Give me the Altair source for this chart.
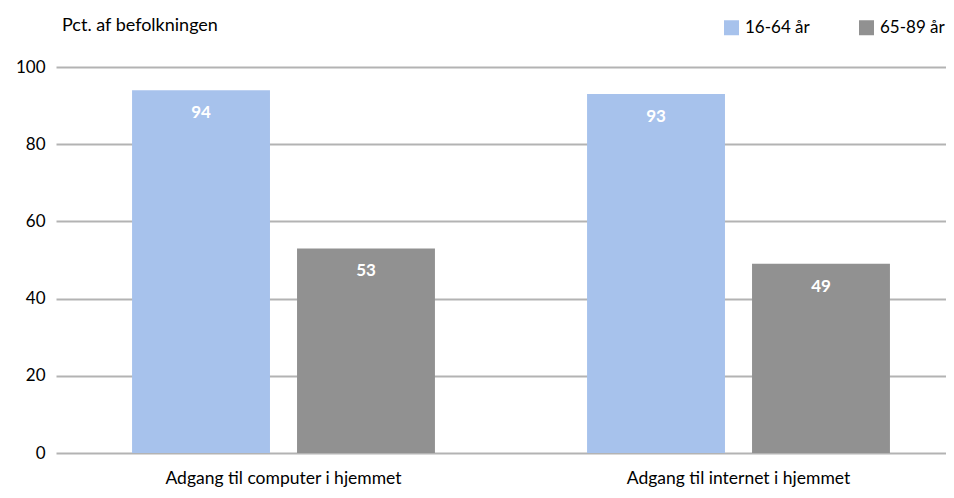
import altair as alt
import pandas as pd

categories = ["Adgang til computer i hjemmet", "Adgang til internet i hjemmet"]
groups = ["16-64 år", "65-89 år"]
values_young = [94, 93]
values_old = [53, 49]
colors = ["#a7c2ec", "#919191"]
y_title = "Pct. af befolkningen"

rows = []
for i, c in enumerate(categories):
    rows.append({"cat": c, "grp": groups[0], "val": values_young[i]})
    rows.append({"cat": c, "grp": groups[1], "val": values_old[i]})
df = pd.DataFrame(rows)

FONT = "Lato"

x = alt.X("cat:N", sort=categories, title=None,
          scale=alt.Scale(range=[0, 910], paddingInner=0, paddingOuter=0),
          axis=alt.Axis(labelAngle=0, labelFontSize=17.5, labelColor="#000000",
                        labelPadding=16, domain=False, ticks=False, labelFont=FONT,
                        labelLimit=400))
xoff = alt.XOffset("grp:N", sort=groups,
                   scale=alt.Scale(paddingInner=0.164, paddingOuter=0.461))
y = alt.Y("val:Q", title=None,
          scale=alt.Scale(domain=[0, 100], nice=False),
          axis=alt.Axis(values=[0, 20, 40, 60, 80, 100], labelFontSize=17,
                        labelColor="#000000", labelPadding=11, domain=False,
                        ticks=False, gridColor="#b3b3b3", gridWidth=2,
                        labelFont=FONT))

bars = alt.Chart(df).mark_bar().encode(
    x=x, xOffset=xoff, y=y,
    color=alt.Color("grp:N", sort=groups, title=None,
                    scale=alt.Scale(domain=groups, range=colors),
                    legend=alt.Legend(orient="none", legendX=667, legendY=-48,
                                      direction="horizontal", columns=2,
                                      symbolType="square", symbolSize=225,
                                      symbolStrokeWidth=0, symbolOpacity=1,
                                      labelFontSize=17, labelColor="#000000",
                                      labelFont=FONT, columnPadding=48,
                                      labelOffset=5)),
)

labels = alt.Chart(df).mark_text(
    color="white", fontWeight="bold", fontSize=17, font=FONT,
    baseline="middle", dy=23
).encode(x=x, xOffset=xoff, y=y, text=alt.Text("val:Q"))

title = alt.Chart(pd.DataFrame({"t": [y_title]})).mark_text(
    align="left", baseline="middle", fontSize=18, font=FONT, color="#000000"
).encode(x=alt.value(6), y=alt.value(-41), text="t:N")

chart = alt.layer(bars, labels, title).properties(
    width=890, height=386,
    autosize=alt.AutoSizeParams(type="none"),
    padding={"left": 48, "top": 59, "right": 0, "bottom": 45},
).configure_view(stroke=None).configure_bar(opacity=1)

chart.save("out.html", embed_options={"renderer": "svg", "actions": False})
